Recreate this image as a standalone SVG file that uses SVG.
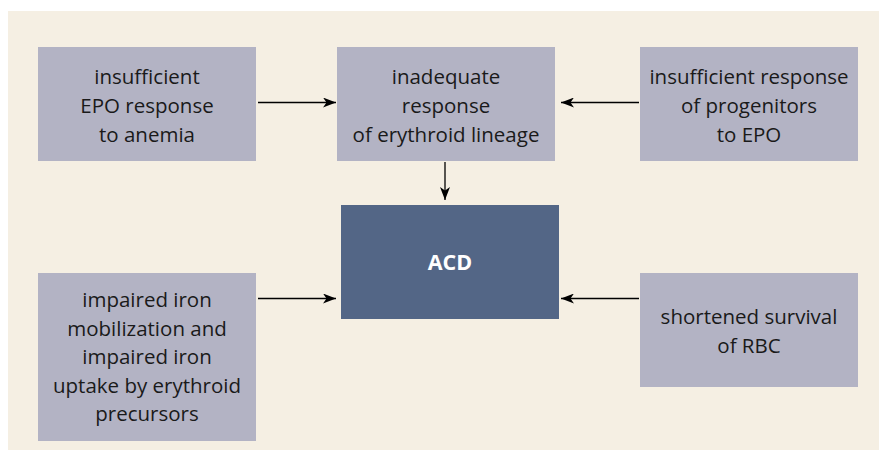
<svg xmlns="http://www.w3.org/2000/svg" width="879" height="450" viewBox="0 0 879 450">
<defs>
<style>
.box{fill:#b3b3c4}
.t{font-family:"Open Sans","Noto Sans",sans-serif;font-size:20.5px;fill:#1a1a1a;text-anchor:middle}
.main{fill:#536686}
.mt{font-family:"Open Sans","Noto Sans",sans-serif;font-size:21.5px;font-weight:bold;fill:#ffffff;text-anchor:middle}
.c{stroke:#000;stroke-width:1.3;fill:none;marker-end:url(#ah)}
</style>
<marker id="ah" viewBox="0 0 13 10" refX="13" refY="5" markerWidth="13" markerHeight="10" markerUnits="userSpaceOnUse" orient="auto">
<path d="M0,0 L13,5 L0,10 L3.5,5 Z" fill="#000"/>
</marker>
</defs>
<rect x="0" y="0" width="879" height="450" fill="#ffffff"/>
<rect x="8" y="11" width="871" height="439" fill="#f5efe3"/>
<g id="connectors">
<line class="c" x1="258" y1="102.5" x2="336" y2="102.5"/>
<line class="c" x1="639" y1="102.5" x2="561" y2="102.5"/>
<line class="c" x1="445" y1="162" x2="445" y2="200"/>
<line class="c" x1="258" y1="298.5" x2="336" y2="298.5"/>
<line class="c" x1="639" y1="298.5" x2="561" y2="298.5"/>
</g>
<g id="n1">
<rect class="box" x="38" y="47" width="218" height="114"/>
<text class="t" x="147" y="84">insufficient</text>
<text class="t" x="147" y="113">EPO response</text>
<text class="t" x="147" y="142">to anemia</text>
</g>
<g id="n2">
<rect class="box" x="337" y="47" width="218" height="114"/>
<text class="t" x="446" y="84">inadequate</text>
<text class="t" x="446" y="113">response</text>
<text class="t" x="446" y="142">of erythroid lineage</text>
</g>
<g id="n3">
<rect class="box" x="640" y="47" width="218" height="114"/>
<text class="t" x="749" y="84">insufficient response</text>
<text class="t" x="749" y="113">of progenitors</text>
<text class="t" x="749" y="142">to EPO</text>
</g>
<g id="acd">
<rect class="main" x="341" y="205" width="218" height="114"/>
<text class="mt" x="450" y="270">ACD</text>
</g>
<g id="n4">
<rect class="box" x="38" y="273" width="218" height="168"/>
<text class="t" x="147" y="307">impaired iron</text>
<text class="t" x="147" y="335.5">mobilization and</text>
<text class="t" x="147" y="364">impaired iron</text>
<text class="t" x="147" y="392.5">uptake by erythroid</text>
<text class="t" x="147" y="421">precursors</text>
</g>
<g id="n5">
<rect class="box" x="640" y="273" width="218" height="114"/>
<text class="t" x="749" y="324">shortened survival</text>
<text class="t" x="749" y="353">of RBC</text>
</g>
</svg>
